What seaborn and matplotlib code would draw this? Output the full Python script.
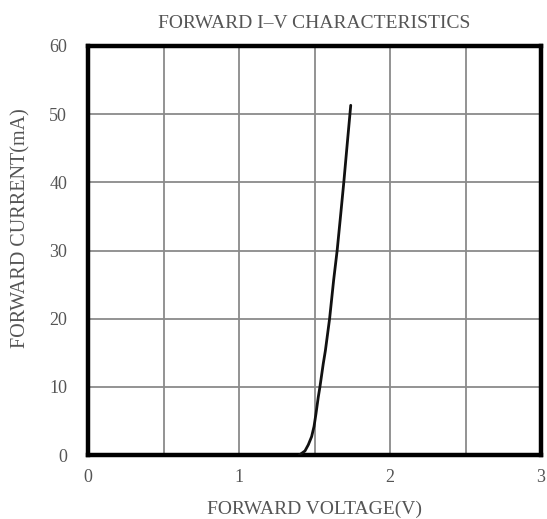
import matplotlib
matplotlib.use("Agg")
import matplotlib.pyplot as plt
import seaborn as sns
import pandas as pd

voltage = [1.400, 1.437, 1.459, 1.481, 1.497, 1.510, 1.525, 1.536, 1.558, 1.572,
           1.600, 1.627, 1.650, 1.674, 1.694, 1.717, 1.740]
current = [0.0, 0.6, 1.5, 2.7, 4.2, 6.1, 8.5, 10.0, 13.4, 15.3,
           20.0, 25.7, 30.0, 35.4, 40.0, 45.7, 51.3]
x_ticks = [0, 1, 2, 3]
y_ticks = [0, 10, 20, 30, 40, 50, 60]

sns.set_style("white")
plt.rcParams['font.family'] = ['Liberation Serif', 'DejaVu Serif']

df = pd.DataFrame({"V": voltage, "I": current})

fig = plt.figure(figsize=(5.47, 5.19), dpi=100)
ax = fig.add_axes([88/547, 1-455/519, (541-88)/547, (455-46)/519])

for xv in [0.5, 1.0, 1.5, 2.0, 2.5]:
    ax.axvline(xv, color="#8a8a8a", lw=1.3, zorder=1)
for yv in y_ticks[1:-1]:
    ax.axhline(yv, color="#8a8a8a", lw=1.3, zorder=1)

sns.lineplot(data=df, x="V", y="I", ax=ax, color="#111111", lw=2.0, zorder=3, sort=False)

ax.set_xlim(0, 3)
ax.set_ylim(0, 60)
ax.set_xticks(x_ticks)
ax.set_yticks(y_ticks)
txt = "#555555"
ax.tick_params(axis="both", length=0, labelsize=13, labelcolor=txt)
ax.tick_params(axis="x", pad=10)
ax.tick_params(axis="y", pad=15)
for s in ax.spines.values():
    s.set_visible(True)
    s.set_color("black")
    s.set_linewidth(3.2)

ax.set_xlabel("FORWARD VOLTAGE(V)", fontsize=14, color=txt, labelpad=11)
ax.set_ylabel("FORWARD CURRENT(mA)", fontsize=14.5, color=txt)
ax.yaxis.set_label_coords(-0.128, 0.555)
ax.set_title("FORWARD I\u2013V CHARACTERISTICS", fontsize=14, color=txt, pad=13)

fig.savefig("out.png", dpi=100)
